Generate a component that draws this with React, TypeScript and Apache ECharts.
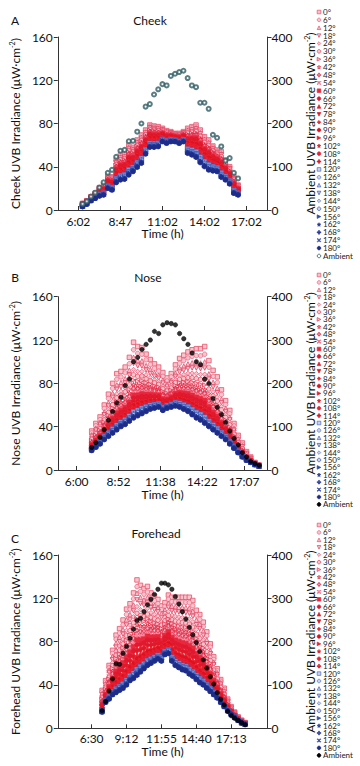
import React, { useEffect, useRef } from "react";
import * as echarts from "echarts";

const FONT = "Lato";

const angleLabels = ["0°", "6°", "12°", "18°", "24°", "30°", "36°", "42°", "48°", "54°", "60°", "66°", "72°", "78°", "84°", "90°", "96°", "102°", "108°", "114°", "120°", "126°", "132°", "138°", "144°", "150°", "156°", "162°", "168°", "174°", "180°"];

// tick labels
const cheekTickLabels = ["6:02", "8:47", "11:02", "14:02", "17:02"];
const noseTickLabels = ["6:00", "8:52", "11:38", "14:22", "17:07"];
const foreheadTickLabels = ["6:30", "9:12", "11:55", "14:40", "17:13"];
// measurement index at which each tick label sits
const cheekTickAt = [0, 10, 20, 30, 40];
const noseTickAt = [-3.6, 6.4, 16.4, 26.4, 36.4];
const foreheadTickAt = [-3, 7, 17, 27, 37];

// Cheek (left axis, µW·cm⁻²): highest and lowest angle readings per measurement, ambient (right axis)
const cheekTop = [6.2, 8.6, 12.3, 15.4, 20.7, 23.1, 31.5, 30.8, 46.3, 50.9, 51.8, 60.1, 58, 64.8, 69.4, 74, 78.6, 77.7, 77.1, 75.6, 73.4, 72.5, 70.9, 70.9, 72.5, 75.6, 77.1, 78.6, 74, 67.8, 64.8, 59.2, 55.5, 54, 46.3, 40.1, 30.8, 23.1];
const cheekBottom = [3.1, 5.5, 8.6, 10.8, 12.9, 13.9, 20, 18.5, 25.3, 27.8, 28.4, 32.4, 35.5, 39.5, 43.2, 51.8, 58, 58, 58.6, 63.2, 61.7, 63.2, 63.2, 61.7, 63.2, 52.4, 50.9, 48.7, 43.8, 40.1, 37, 36.1, 35.5, 30.2, 27.8, 24.1, 15.4, 13.9];
const cheekAmbient = [14, 20, 31, 40, 52, 64, 86, 93, 123, 137, 139, 159, 160, 181, 200, 239, 245, 267, 279, 291, 288, 310, 315, 319, 322, 305, 288, 284, 248, 248, 234, 174, 167, 147, 114, 120, 86, 73];

const noseTop = [36, 43, 49, 60, 70, 80, 89, 91, 95, 104, 118, 114, 113, 107, 102, 98, 95, 90, 85, 89, 97, 103, 106, 109, 111, 112, 112, 114, 101, 92, 86, 74, 64, 55, 43, 32, 25, 17, 12, 7, 4.6];
const noseBottom = [18, 21, 24, 28, 31, 34, 37, 40, 42, 45, 48, 50, 52, 54, 56, 57, 58, 55, 57, 58, 59, 58, 56, 54, 51, 48, 46, 43, 40, 37, 34, 31, 28, 24, 20, 16, 12, 9, 7, 5, 3.5];
const noseAmbient = [52, 63, 75, 93, 115, 135, 155, 168, 195, 210, 250, 260, 278, 290, 300, 320, 315, 335, 340, 338, 335, 315, 303, 290, 270, 250, 243, 210, 200, 165, 145, 128, 110, 90, 73, 58, 40, 30, 20, 15, 11];

const foreheadTop = [35, 44, 58, 72, 86, 92, 100, 110, 115, 125, 137, 132, 129, 131, 125, 122, 119, 113, 116, 123, 121, 121, 121, 121, 121, 121, 118, 109, 105, 98, 89, 78, 66, 55, 45, 37, 27, 20, 15, 10.5, 7.5, 5.3];
const foreheadBottom = [15, 24, 27, 31, 33, 35, 37, 40, 44, 46, 49, 52, 55, 58, 60, 62, 64, 62, 68, 69, 62, 58, 56, 54, 53, 50, 48, 45, 42, 40, 37, 34, 31, 28, 24, 20, 16, 13, 10, 7.5, 5, 3.7];
const foreheadAmbient = [41, 62, 86, 114, 149, 148, 173, 189, 208, 229, 249, 254, 269, 285, 298, 309, 321, 335, 335, 331, 321, 304, 287, 269, 252, 233, 216, 198, 177, 158, 139, 119, 102, 82, 67, 54, 39, 29, 23, 18, 13, 8];

// where each angle sits between the lowest (0) and highest (1) reading of a measurement
const cheekSpread = [1.0, 0.96, 0.92, 0.88, 0.84, 0.8, 0.76, 0.72, 0.68, 0.64, 0.6, 0.56, 0.52, 0.48, 0.44, 0.4, 0.36, 0.32, 0.27, 0.22, 0.17, 0.15, 0.13, 0.11, 0.09, 0.08, 0.06, 0.05, 0.03, 0.02, 0.0];
const noseSpread = [1.0, 0.9, 0.8, 0.72, 0.64, 0.57, 0.5, 0.44, 0.39, 0.34, 0.3, 0.26, 0.23, 0.2, 0.18, 0.16, 0.14, 0.12, 0.11, 0.1, 0.08, 0.07, 0.06, 0.05, 0.045, 0.04, 0.03, 0.02, 0.015, 0.01, 0.0];
const foreheadSpread = [1.0, 0.93, 0.86, 0.79, 0.72, 0.65, 0.59, 0.53, 0.47, 0.42, 0.37, 0.32, 0.28, 0.24, 0.2, 0.17, 0.14, 0.12, 0.1, 0.08, 0.06, 0.05, 0.045, 0.04, 0.03, 0.025, 0.02, 0.015, 0.01, 0.005, 0.0];

// marker outlines in a 10x10 box
const SHAPES: Record<string, number[][]> = {
  triangle: [[5, 0], [10, 10], [0, 10]],
  down: [[0, 0], [10, 0], [5, 10]],
  right: [[0, 0], [10, 5], [0, 10]],
  diamond: [[5, 0], [10, 5], [5, 10], [0, 5]],
  star: [[5, 0], [6.2, 3.8], [10, 3.8], [6.9, 6.1], [8.1, 10], [5, 7.6], [1.9, 10], [3.1, 6.1], [0, 3.8], [3.8, 3.8]],
  plus: [[3.5, 0], [6.5, 0], [6.5, 3.5], [10, 3.5], [10, 6.5], [6.5, 6.5], [6.5, 10], [3.5, 10], [3.5, 6.5], [0, 6.5], [0, 3.5], [3.5, 3.5]],
  cross: [[1.5, 0], [5, 3.5], [8.5, 0], [10, 1.5], [6.5, 5], [10, 8.5], [8.5, 10], [5, 6.5], [1.5, 10], [0, 8.5], [3.5, 5], [0, 1.5]],
};
const angleShapes = ["rect", "circle", "triangle", "down", "diamond", "circle", "right", "star", "plus", "cross", "rect", "circle", "triangle", "down", "diamond", "circle", "right", "star", "circle", "plus", "rect", "circle", "triangle", "down", "diamond", "circle", "right", "star", "plus", "cross", "circle"];
const angleColors = ["#e8506a", "#e86a86", "#e05070", "#e04060", "#e86080", "#e44058", "#e23050", "#e0203a", "#e02040", "#e84060", "#e8283c", "#e01830", "#e02030", "#e01828", "#e82838", "#e01020", "#e82030", "#e01828", "#e82038", "#e01828", "#4a6cc8", "#5a7ad0", "#4060c0", "#3050b0", "#6080d0", "#3a58b8", "#2e4aa8", "#22389a", "#2a3c98", "#3048a8", "#1e2c88"];

function symbolOf(kind: string) {
  if (kind === "rect" || kind === "circle") return kind;
  return "path://M" + SHAPES[kind].map((q) => q.join(",")).join("L") + "Z";
}

function legendMark(kind: string, cx: number, cy: number, size: number, style: any) {
  if (kind === "circle") return { type: "circle", shape: { cx, cy, r: size / 2 }, style };
  if (kind === "rect") return { type: "rect", shape: { x: cx - size / 2, y: cy - size / 2, width: size, height: size }, style };
  return { type: "polygon", shape: { points: SHAPES[kind].map(([a, b]) => [cx - size / 2 + (a * size) / 10, cy - size / 2 + (b * size) / 10]) }, style };
}

const panels = [
  { id: "A", name: "Cheek", ticksAt: cheekTickAt, tickLabels: cheekTickLabels, first: 1, top: cheekTop, bottom: cheekBottom, ambient: cheekAmbient, spread: cheekSpread, xMin: -4.9, xMax: 45, gridTop: 37, gridH: 173, legendY0: 12, legendStep: 7.87, titleX: 150, titleY: 20, letterY: 20, nameGap: 17, labelMargin: 5, ambFilled: false, ambColor: "#2f5d63" },
  { id: "B", name: "Nose", ticksAt: noseTickAt, tickLabels: noseTickLabels, first: 0, top: noseTop, bottom: noseBottom, ambient: noseAmbient, spread: noseSpread, xMin: -8.1, xMax: 42, gridTop: 296.7, gridH: 173.3, legendY0: 275, legendStep: 7.4, titleX: 148, titleY: 277, letterY: 277, nameGap: 18, labelMargin: 5, ambFilled: true, ambColor: "#000" },
  { id: "C", name: "Forehead", ticksAt: foreheadTickAt, tickLabels: foreheadTickLabels, first: 0, top: foreheadTop, bottom: foreheadBottom, ambient: foreheadAmbient, spread: foreheadSpread, xMin: -12.7, xMax: 47.4, gridTop: 555, gridH: 173.3, legendY0: 525, legendStep: 7.43, titleX: 156, titleY: 533, letterY: 538, nameGap: 16, labelMargin: 4, ambFilled: true, ambColor: "#000" },
];

function buildOption() {
  const grid: any[] = [];
  const xAxis: any[] = [];
  const yAxis: any[] = [];
  const series: any[] = [];
  const graphic: any[] = [];
  const axisLine = { show: true, onZero: false, lineStyle: { color: "#333", width: 1 } };
  const labelStyle = { color: "#111", fontSize: 12, fontFamily: FONT };
  const rich = {
    t: { fontSize: 12, fontFamily: FONT, color: "#111", lineHeight: 14 },
    s: { fontSize: 7, fontFamily: FONT, color: "#111", verticalAlign: "top", lineHeight: 14 },
  };
  const legendText = (x: number, y: number, text: string) => ({
    type: "text", x, y,
    style: { text, fontSize: 8, lineHeight: 7, fontFamily: FONT, fill: "#222", textAlign: "left", textVerticalAlign: "middle" },
  });

  panels.forEach((p, pi) => {
    grid.push({ left: 52, top: p.gridTop, width: 215.5, height: p.gridH });
    xAxis.push({
      gridIndex: pi, type: "value", min: p.xMin, max: p.xMax,
      axisLine, splitLine: { show: false },
      axisTick: { show: true, inside: true, length: 4, lineStyle: { color: "#333" }, customValues: p.ticksAt },
      axisLabel: {
        ...labelStyle, margin: p.labelMargin, customValues: p.ticksAt,
        formatter: (v: number) => {
          const j = p.ticksAt.findIndex((t) => Math.abs(t - v) < 1e-6);
          return j >= 0 ? p.tickLabels[j] : "";
        },
      },
      name: "Time (h)", nameLocation: "middle", nameGap: p.nameGap,
      nameTextStyle: { ...labelStyle },
    });
    yAxis.push({
      gridIndex: pi, type: "value", position: "left", min: 0, max: 160, interval: 40,
      axisLine, splitLine: { show: false },
      axisTick: { show: true, inside: false, length: 4, lineStyle: { color: "#333" } },
      axisLabel: { ...labelStyle, margin: 5 },
      name: `{t|${p.name} UVB Irradiance (μW·cm}{s|-2}{t|)}`, nameLocation: "middle", nameGap: 27,
      nameTextStyle: { rich },
    });
    yAxis.push({
      gridIndex: pi, type: "value", position: "right", min: 0, max: 400, interval: 100,
      axisLine, splitLine: { show: false },
      axisTick: { show: true, inside: false, length: 4, lineStyle: { color: "#333" } },
      axisLabel: { ...labelStyle, margin: 4 },
      name: `{t|Ambient UVB Irradiance (μW·cm}{s|-2}{t|)}`, nameLocation: "middle", nameGap: 28, nameRotate: 90,
      nameTextStyle: { rich },
    });

    const legendX = 319;
    angleLabels.forEach((a, j) => {
      const c = angleColors[j];
      const open = j < 10 || (j >= 20 && j < 26);
      const fill = open ? (j < 20 ? "#f9c4cc" : "#c8d2f0") : c;
      const data = p.top.map((tv, k) => {
        const bv = p.bottom[k];
        return [p.first + k, Math.round((bv + p.spread[j] * (tv - bv)) * 10) / 10];
      });
      series.push({
        type: "scatter", name: `${p.id} ${a}`, xAxisIndex: pi, yAxisIndex: pi * 2,
        symbol: symbolOf(angleShapes[j]), symbolSize: 4.5,
        itemStyle: { color: fill, borderColor: c, borderWidth: 0.8, opacity: 1 },
        data, silent: true,
      });
      const y = p.legendY0 + j * p.legendStep;
      graphic.push(legendMark(angleShapes[j], legendX, y, 3.6, { fill, stroke: c, lineWidth: 0.7 }));
      graphic.push(legendText(legendX + 4, y, a));
    });
    series.push({
      type: "scatter", name: `${p.id} Ambient`, xAxisIndex: pi, yAxisIndex: pi * 2 + 1,
      symbol: p.ambFilled ? "circle" : "emptyCircle", symbolSize: p.ambFilled ? 4.5 : 4,
      itemStyle: { color: p.ambColor, borderColor: p.ambColor, borderWidth: p.ambFilled ? 0.5 : 1.2 },
      data: p.ambient.map((v, k) => [p.first + k, v]), silent: true, z: 5,
    });
    const ya = p.legendY0 + 31 * p.legendStep;
    graphic.push({ type: "circle", shape: { cx: legendX, cy: ya, r: 1.8 }, style: { fill: p.ambFilled ? p.ambColor : "#fff", stroke: p.ambColor, lineWidth: 0.8 } });
    graphic.push(legendText(legendX + 4, ya, "Ambient"));

    graphic.push({ type: "text", x: 15, y: p.letterY, style: { text: p.id, fontSize: 12, fontFamily: FONT, fill: "#111", textAlign: "center", textVerticalAlign: "middle" } });
    graphic.push({ type: "text", x: p.titleX, y: p.titleY, style: { text: p.name, fontSize: 12, fontFamily: FONT, fill: "#111", textAlign: "center", textVerticalAlign: "middle" } });
  });

  return { animation: false, backgroundColor: "#fff", grid, xAxis, yAxis, series, graphic };
}

export default function App() {
  const ref = useRef<HTMLDivElement>(null);
  useEffect(() => {
    document.body.style.margin = "0";
    const chart = echarts.init(ref.current!, null, { renderer: "svg" });
    chart.setOption(buildOption() as any);
    return () => chart.dispose();
  }, []);
  return <div ref={ref} style={{ width: 360, height: 766 }} />;
}
